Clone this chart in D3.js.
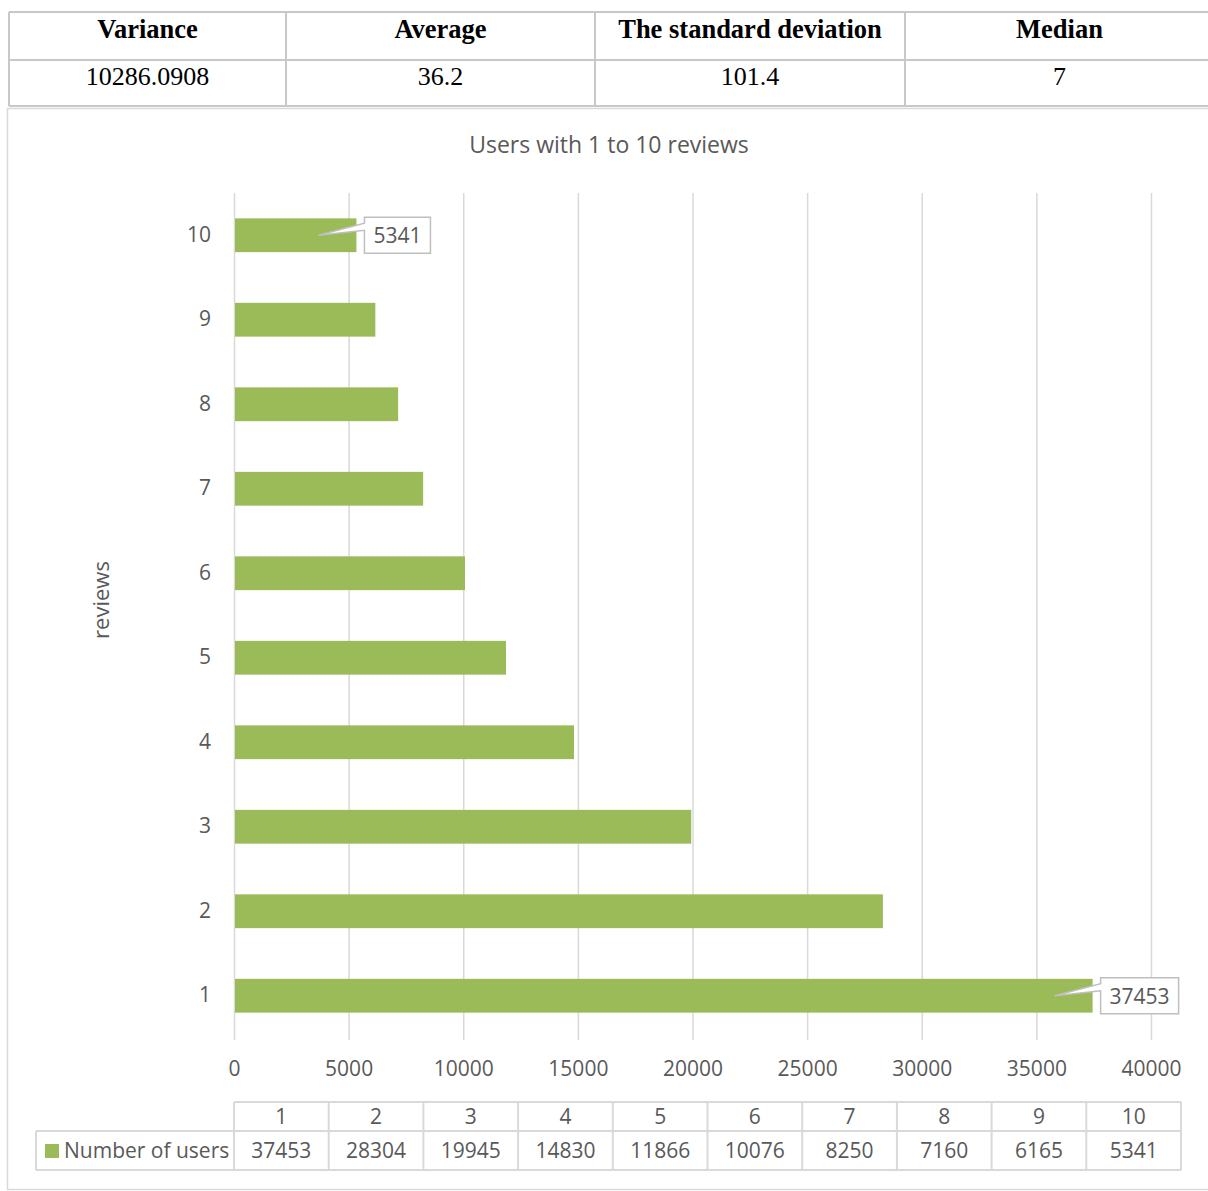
<!DOCTYPE html>
<html>
<head>
<meta charset="utf-8">
<script src="https://cdn.jsdelivr.net/npm/d3@7"></script>
<style>
  body { margin: 0; background: #fff; }
  svg text { font-family: "Open Sans", sans-serif; }
</style>
</head>
<body>
<div id="chart"></div>
<script>
// summary table at the top
var statHeaders = ["Variance", "Average", "The standard deviation", "Median"];
var statValues = ["10286.0908", "36.2", "101.4", "7"];

// chart data
var reviews = [1, 2, 3, 4, 5, 6, 7, 8, 9, 10];
var users = [37453, 28304, 19945, 14830, 11866, 10076, 8250, 7160, 6165, 5341];
var xTicks = [0, 5000, 10000, 15000, 20000, 25000, 30000, 35000, 40000];
var labelled = [1, 10];   // bars that got a callout label

var W = 1208, H = 1191;
var green = "#9BBB59", grid = "#d9d9d9", txt = "#595959";
var fs = "21px";

var svg = d3.select("#chart").append("svg")
    .attr("width", W)
    .attr("height", H);

// ---- top stats table ----
var colEdges = [9, 286, 595, 905, 1214];
var tb = svg.append("g");
var rowY = [12, 60, 106];

rowY.forEach(function(yy) {
    tb.append("line").attr("x1", 9).attr("x2", W).attr("y1", yy).attr("y2", yy)
        .attr("stroke", "#c8c8c8").attr("stroke-width", 2);
});
colEdges.forEach(function(xx) {
    tb.append("line").attr("x1", xx).attr("x2", xx).attr("y1", 12).attr("y2", 106)
        .attr("stroke", "#c8c8c8").attr("stroke-width", 2);
});
statHeaders.forEach(function(h, i) {
    tb.append("text")
        .attr("x", (colEdges[i] + colEdges[i + 1]) / 2)
        .attr("y", 38)
        .attr("text-anchor", "middle")
        .style("font-family", "'Liberation Serif', serif")
        .style("font-weight", "bold")
        .style("font-size", "26.5px")
        .attr("fill", "#000")
        .text(h);
});
statValues.forEach(function(v, i) {
    tb.append("text")
        .attr("x", (colEdges[i] + colEdges[i + 1]) / 2)
        .attr("y", 85)
        .attr("text-anchor", "middle")
        .style("font-family", "'Liberation Serif', serif")
        .style("font-size", "26px")
        .attr("fill", "#000")
        .text(v);
});

// ---- chart frame ----
svg.append("rect")
    .attr("x", 7.5).attr("y", 108.5)
    .attr("width", W).attr("height", H - 110)
    .attr("fill", "none")
    .attr("stroke", grid).attr("stroke-width", 1.5);

// title
svg.append("text")
    .attr("x", 609).attr("y", 153)
    .attr("text-anchor", "middle")
    .style("font-size", "23px")
    .attr("fill", txt)
    .text("Users with 1 to 10 reviews");

// scales
var plotL = 234, plotR = 1151, plotT = 193, plotB = 1038;

var x = d3.scaleLinear()
    .domain([0, 40000])
    .range([plotL, plotR]);

var y = d3.scaleBand()
    .domain(reviews.slice().reverse())
    .range([plotT, plotB])
    .paddingInner(0.6)
    .paddingOuter(0.3);

// vertical gridlines + x tick labels
var xAxis = d3.axisBottom(x)
    .tickValues(xTicks)
    .tickSize(-(plotB - plotT + 2))
    .tickPadding(21)
    .tickFormat(d3.format("d"));

var gx = svg.append("g")
    .attr("transform", "translate(0," + (plotB + 2) + ")")
    .call(xAxis);
gx.select(".domain").remove();
gx.selectAll(".tick line").attr("stroke", grid).attr("stroke-width", 1.5);
gx.selectAll(".tick text")
    .attr("fill", txt)
    .style("font-size", fs)
    .style("font-family", "'Open Sans', sans-serif");

// category axis
var yAxis = d3.axisLeft(y).tickSize(0).tickPadding(23);
var gy = svg.append("g")
    .attr("transform", "translate(" + plotL + ",0)")
    .call(yAxis);
gy.select(".domain").remove();
gy.selectAll(".tick text")
    .attr("fill", txt)
    .style("font-size", fs)
    .style("font-family", "'Open Sans', sans-serif");

// axis title
svg.append("text")
    .attr("transform", "translate(109,600) rotate(-90)")
    .attr("text-anchor", "middle")
    .style("font-size", "22px")
    .attr("fill", txt)
    .text("reviews");

// bars
svg.append("g").selectAll("rect")
    .data(reviews)
    .join("rect")
    .attr("x", x(0) + 1)
    .attr("y", function(d) { return y(d); })
    .attr("width", function(d, i) { return x(users[i]) - x(0) - 1; })
    .attr("height", y.bandwidth())
    .attr("fill", green);

// callouts for the first and last bars
labelled.forEach(function(r) {
    var v = users[reviews.indexOf(r)];
    var end = x(v);
    var cy = y(r) + y.bandwidth() / 2;
    var bw = String(v).length * 12 + 18;
    var bx = end + 8, by = cy - 18, bh = 36;
    var tipX = end - 38;
    var p = "M" + bx + "," + by +
        " H" + (bx + bw) + " V" + (by + bh) + " H" + bx +
        " V" + (by + 13) + " L" + tipX + "," + cy +
        " L" + bx + "," + (by + 6) + " Z";
    svg.append("path")
        .attr("d", p)
        .attr("fill", "#fff")
        .attr("stroke", "#bfbfbf")
        .attr("stroke-width", 1.5);
    svg.append("text")
        .attr("x", bx + bw / 2)
        .attr("y", cy + 8)
        .attr("text-anchor", "middle")
        .style("font-size", fs)
        .attr("fill", txt)
        .text(v);
});

// ---- data table under the chart ----
var colW = (1181 - plotL) / reviews.length;
var dt = svg.append("g");
var hTop = 1102, hMid = 1131, hBot = 1170;

dt.append("line").attr("x1", plotL).attr("x2", 1181).attr("y1", hTop).attr("y2", hTop)
    .attr("stroke", grid).attr("stroke-width", 2);
dt.append("line").attr("x1", 36).attr("x2", 1181).attr("y1", hMid).attr("y2", hMid)
    .attr("stroke", grid).attr("stroke-width", 2);
dt.append("line").attr("x1", 36).attr("x2", 1181).attr("y1", hBot).attr("y2", hBot)
    .attr("stroke", grid).attr("stroke-width", 2);
dt.append("line").attr("x1", 36).attr("x2", 36).attr("y1", hMid).attr("y2", hBot)
    .attr("stroke", grid).attr("stroke-width", 2);

reviews.forEach(function(r, i) {
    var cx = plotL + i * colW;
    dt.append("line").attr("x1", cx).attr("x2", cx).attr("y1", hTop).attr("y2", hBot)
        .attr("stroke", grid).attr("stroke-width", 2);
    dt.append("text")
        .attr("x", cx + colW / 2).attr("y", hTop + 22)
        .attr("text-anchor", "middle")
        .style("font-size", fs)
        .attr("fill", txt)
        .text(r);
    dt.append("text")
        .attr("x", cx + colW / 2).attr("y", hMid + 27)
        .attr("text-anchor", "middle")
        .style("font-size", fs)
        .attr("fill", txt)
        .text(users[i]);
});
dt.append("line").attr("x1", 1181).attr("x2", 1181).attr("y1", hTop).attr("y2", hBot)
    .attr("stroke", grid).attr("stroke-width", 2);

// legend key in the table
dt.append("rect")
    .attr("x", 45).attr("y", 1144)
    .attr("width", 14).attr("height", 14)
    .attr("fill", green);
dt.append("text")
    .attr("x", 64).attr("y", hMid + 27)
    .style("font-size", fs)
    .attr("fill", txt)
    .text("Number of users");
</script>
</body>
</html>
